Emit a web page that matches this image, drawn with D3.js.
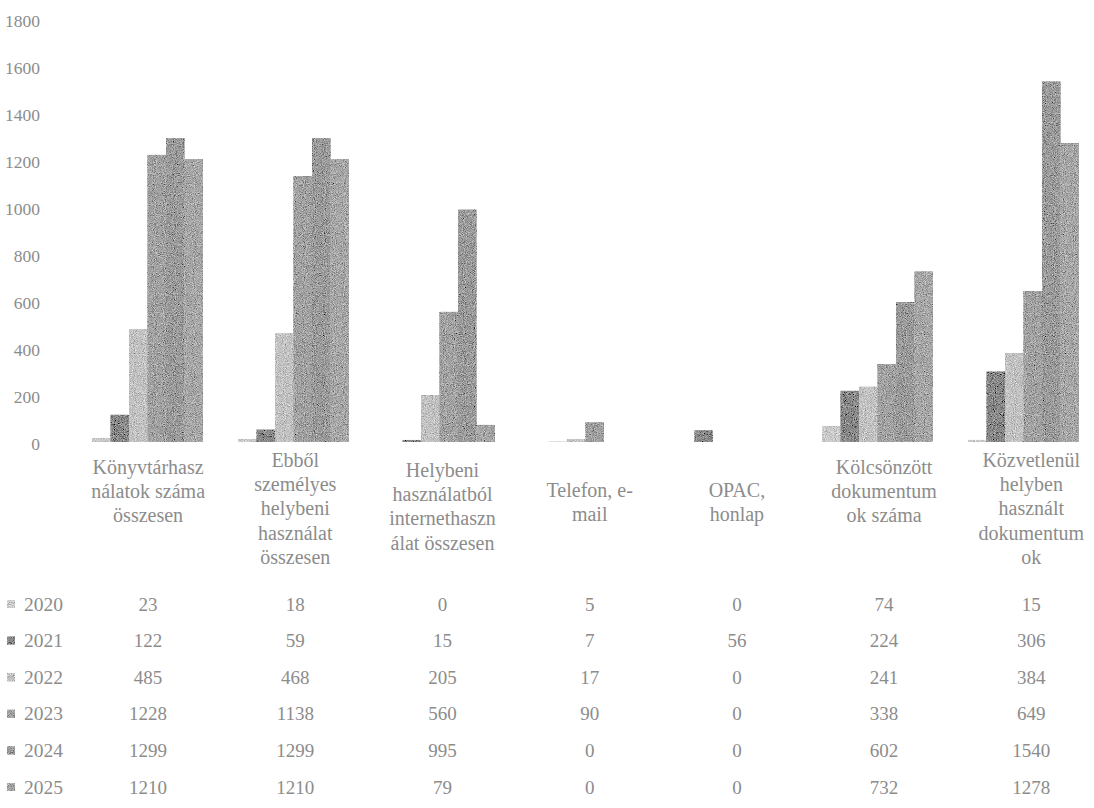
<!DOCTYPE html>
<html>
<head>
<meta charset="utf-8">
<script src="https://cdn.jsdelivr.net/npm/d3@7"></script>
<style>
  html, body { margin: 0; padding: 0; background: #ffffff; }
  svg { display: block; }
</style>
</head>
<body>
<svg id="chart" width="1094" height="808"></svg>
<script>
// ---------- DATA ----------
const categories = [
  "Könyvtárhasználatok száma összesen",
  "Ebből személyes helybeni használat összesen",
  "Helybeni használatból internethasználat összesen",
  "Telefon, e-mail",
  "OPAC, honlap",
  "Kölcsönzött dokumentumok száma",
  "Közvetlenül helyben használt dokumentumok"
];
const categoryLines = [
  ["Könyvtárhasz", "nálatok száma", "összesen"],
  ["Ebből", "személyes", "helybeni", "használat", "összesen"],
  ["Helybeni", "használatból", "internethaszn", "álat összesen"],
  ["Telefon, e-", "mail"],
  ["OPAC,", "honlap"],
  ["Kölcsönzött", "dokumentum", "ok száma"],
  ["Közvetlenül", "helyben", "használt", "dokumentum", "ok"]
];
const years = ["2020", "2021", "2022", "2023", "2024", "2025"];
const values2020 = [23, 18, 0, 5, 0, 74, 15];
const values2021 = [122, 59, 15, 7, 56, 224, 306];
const values2022 = [485, 468, 205, 17, 0, 241, 384];
const values2023 = [1228, 1138, 560, 90, 0, 338, 649];
const values2024 = [1299, 1299, 995, 0, 0, 602, 1540];
const values2025 = [1210, 1210, 79, 0, 0, 732, 1278];
const yTicks = [0, 200, 400, 600, 800, 1000, 1200, 1400, 1600, 1800];
const seriesColors = ["#cbcbcb", "#8a8a8a", "#c3c3c3", "#a3a3a3", "#9c9c9c", "#a8a8a8"];

const seriesValues = [values2020, values2021, values2022, values2023, values2024, values2025];
const series = years.map((y, i) => ({ year: y, values: seriesValues[i], color: seriesColors[i] }));

// ---------- LAYOUT ----------
const svg = d3.select("#chart");
const textColor = "#8c8c8c";
const fontFam = "'Liberation Serif', 'Times New Roman', serif";

const x = d3.scaleBand().domain(categories).range([74.5, 1096.5]).paddingInner(0.24).paddingOuter(0.12);
const xInner = d3.scaleBand().domain(years).range([0, x.bandwidth()]);
const y = d3.scaleLinear().domain([0, 1800]).range([443.5, 20.5]);
const xTable = d3.scaleBand().domain(categories).range([74.5, 1104.9]);

// noise filter to mimic the dithered texture
const defs = svg.append("defs");
const f = defs.append("filter").attr("id", "grain")
  .attr("filterUnits", "userSpaceOnUse")
  .attr("x", 0).attr("y", 0).attr("width", 1094).attr("height", 808);
f.append("feTurbulence").attr("type", "fractalNoise").attr("baseFrequency", 1.1)
  .attr("numOctaves", 1).attr("seed", 11).attr("result", "t");
f.append("feColorMatrix").attr("in", "t").attr("type", "matrix")
  .attr("values", "0.33 0.33 0.33 0 0  0.33 0.33 0.33 0 0  0.33 0.33 0.33 0 0  0 0 0 0 1")
  .attr("result", "g");
f.append("feComposite").attr("in", "SourceGraphic").attr("in2", "g")
  .attr("operator", "arithmetic").attr("k1", 0).attr("k2", 1).attr("k3", 1.6).attr("k4", -0.8)
  .attr("result", "mix");
f.append("feComposite").attr("in", "mix").attr("in2", "SourceGraphic").attr("operator", "in");

defs.append("clipPath").attr("id", "plotclip")
  .append("rect").attr("x", 0).attr("y", 0).attr("width", 1094).attr("height", 442);

// ---------- Y AXIS ----------
const yAxis = d3.axisLeft(y).tickValues(yTicks).tickFormat(d3.format("d")).tickSize(0).tickPadding(0);
const gy = svg.append("g").attr("transform", "translate(40,0)").call(yAxis);
gy.select(".domain").remove();
gy.selectAll("text").attr("fill", textColor).style("font-family", fontFam).style("font-size", "17.5px");

// ---------- BARS ----------
const bars = svg.append("g").attr("filter", "url(#grain)").attr("clip-path", "url(#plotclip)");
series.forEach(s => {
  bars.selectAll(null)
    .data(categories.map((c, i) => ({ c, v: s.values[i] })))
    .enter().append("rect")
    .attr("x", d => x(d.c) + xInner(s.year))
    .attr("width", xInner.bandwidth())
    .attr("y", d => y(d.v))
    .attr("height", d => Math.max(0, y(0) - y(d.v)))
    .attr("fill", s.color);
});

// ---------- CATEGORY LABELS ----------
const firstLineY = { 2: 490, 3: 467, 4: 470, 5: 460 };
const lineH = 24.2;
const lab = svg.append("g");
categories.forEach((c, i) => {
  const lines = categoryLines[i];
  const cx = xTable(c) + xTable.bandwidth() / 2;
  lines.forEach((ln, j) => {
    lab.append("text")
      .attr("x", cx).attr("y", firstLineY[lines.length] + j * lineH)
      .attr("text-anchor", "middle").attr("dominant-baseline", "central")
      .attr("fill", textColor).style("font-family", fontFam).style("font-size", "20px")
      .text(ln);
  });
});

// ---------- DATA TABLE ----------
const rowY = d3.scalePoint().domain(years).range([604, 787]);
const tbl = svg.append("g");
const keys = svg.append("g").attr("filter", "url(#grain)");
series.forEach(s => {
  const ry = rowY(s.year);
  keys.append("rect").attr("x", 7).attr("y", ry - 4).attr("width", 8).attr("height", 8).attr("fill", s.color);
  tbl.append("text").attr("x", 24).attr("y", ry).attr("dominant-baseline", "central")
    .attr("fill", textColor).style("font-family", fontFam).style("font-size", "19.5px").text(s.year);
  tbl.selectAll(null).data(categories.map((c, i) => ({ c, v: s.values[i] })))
    .enter().append("text")
    .attr("x", d => xTable(d.c) + xTable.bandwidth() / 2)
    .attr("y", ry)
    .attr("text-anchor", "middle").attr("dominant-baseline", "central")
    .attr("fill", textColor).style("font-family", fontFam).style("font-size", "19px")
    .text(d => d.v);
});
</script>
</body>
</html>
